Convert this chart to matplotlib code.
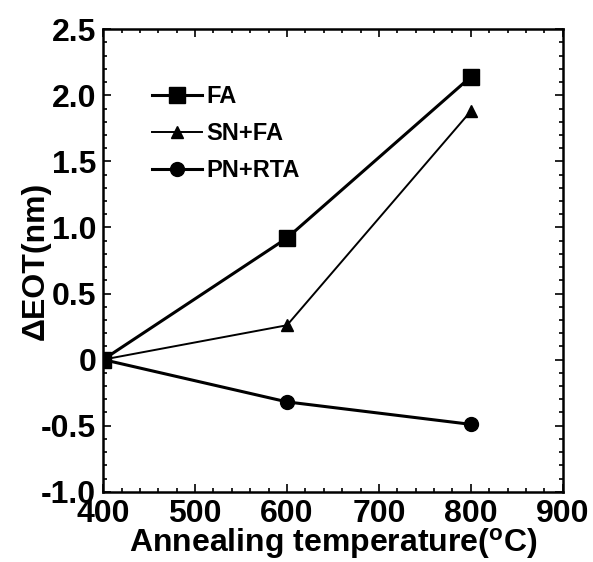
import matplotlib.pyplot as plt
from matplotlib.ticker import MultipleLocator, FuncFormatter

plt.rcParams['font.family'] = ['Liberation Sans', 'DejaVu Sans']
plt.rcParams['font.weight'] = 'bold'

# data
temps = [400, 600, 800]
fa = [0.0, 0.92, 2.14]
sn_fa = [0.0, 0.26, 1.88]
pn_rta = [0.0, -0.32, -0.49]

fig = plt.figure(figsize=(5.93, 5.62), dpi=100)
ax = fig.add_axes([0.174, 0.125, 0.775, 0.823])

ax.plot(temps, fa, 'k-s', lw=2.2, ms=11, label='FA')
ax.plot(temps, sn_fa, 'k-^', lw=1.4, ms=9, label='SN+FA')
ax.plot(temps, pn_rta, 'k-o', lw=2.2, ms=10, label='PN+RTA')

ax.set_xlim(400, 900)
ax.set_ylim(-1.0, 2.5)
ax.xaxis.set_major_locator(MultipleLocator(100))
ax.xaxis.set_minor_locator(MultipleLocator(20))
ax.yaxis.set_major_locator(MultipleLocator(0.5))
ax.yaxis.set_minor_locator(MultipleLocator(0.1))
ax.yaxis.set_major_formatter(FuncFormatter(lambda v, p: '0' if abs(v) < 1e-9 else '%.1f' % v))

ax.tick_params(which='both', direction='in', top=True, right=True, width=1.2)
ax.tick_params(which='major', length=6, labelsize=23)
ax.tick_params(axis='x', which='major', pad=5)
ax.tick_params(axis='y', which='major', pad=5)
ax.tick_params(which='minor', length=3)
for s in ax.spines.values():
    s.set_linewidth(1.8)

ax.set_xlabel('Annealing temperature($\\mathregular{^o}$C)', fontsize=23, fontweight='bold', labelpad=-2)
ax.set_ylabel('ΔEOT(nm)', fontsize=23, fontweight='bold', labelpad=-7)

ax.legend(loc='upper left', bbox_to_anchor=(0.06, 0.925), frameon=False,
          handlelength=2.1, labelspacing=0.6, handletextpad=0.2,
          prop={'weight': 'bold', 'size': 17})

fig.savefig('out.png', dpi=100)
